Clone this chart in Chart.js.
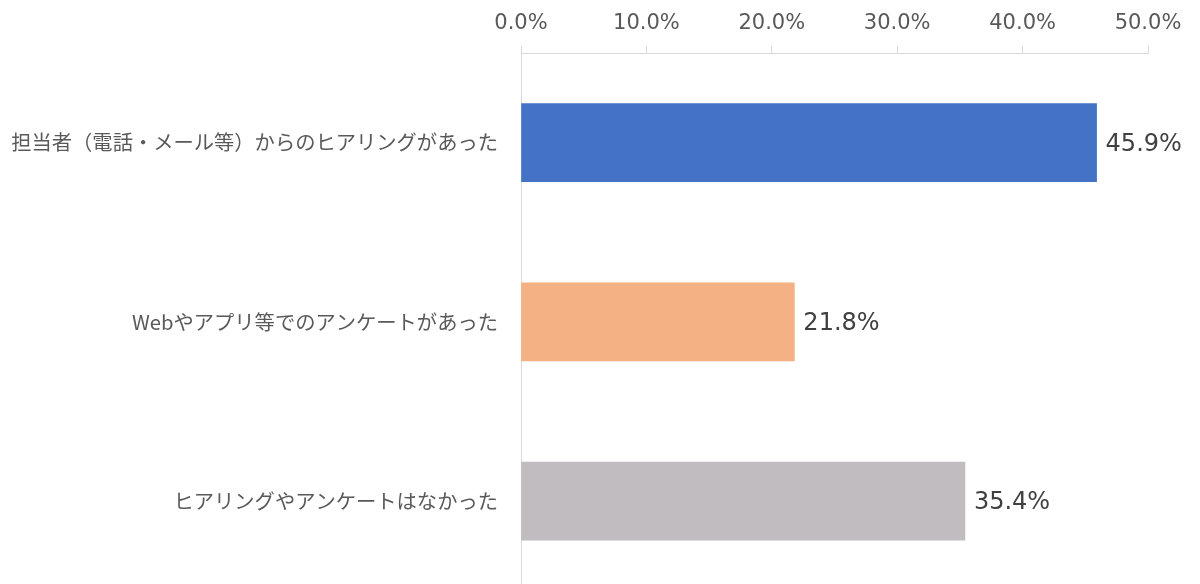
<!DOCTYPE html>
<html>
<head>
<meta charset="utf-8">
<script src="https://cdn.jsdelivr.net/npm/chart.js@4"></script>
<style>
  html, body { margin: 0; padding: 0; background: #fff; overflow: hidden; }
  canvas { display: block; }
</style>
</head>
<body>
<canvas id="myChart" width="1200" height="618"></canvas>
<script>
// Chart data
var categories = [
  '担当者（電話・メール等）からのヒアリングがあった',
  'Webやアプリ等でのアンケートがあった',
  'ヒアリングやアンケートはなかった'
];
var values = [45.9, 21.8, 35.4];
var barColors = ['#4472C4', '#F4B183', '#C0BCC0'];
var xTicks = [0, 10, 20, 30, 40, 50];

var numFont = "'DejaVu Sans', 'Noto Sans CJK JP', sans-serif";
var jpFont = "'Noto Sans CJK JP', 'DejaVu Sans', sans-serif";

// Draw the percentage next to each bar
var valueLabels = {
  id: 'valueLabels',
  afterDatasetsDraw: function (chart) {
    var ctx = chart.ctx;
    var meta = chart.getDatasetMeta(0);
    ctx.save();
    ctx.font = '24px ' + numFont;
    ctx.fillStyle = '#404040';
    ctx.textAlign = 'left';
    ctx.textBaseline = 'middle';
    meta.data.forEach(function (bar, i) {
      ctx.fillText(values[i].toFixed(1) + '%', bar.x + 9, bar.y + 2);
    });
    ctx.restore();
  }
};

var ctx = document.getElementById('myChart').getContext('2d');

var myChart = new Chart(ctx, {
  type: 'bar',
  data: {
    labels: categories,
    datasets: [
      {
        data: values,
        backgroundColor: barColors,
        borderWidth: 0,
        barThickness: 78
      }
    ]
  },
  options: {
    indexAxis: 'y',
    responsive: false,
    animation: false,
    layout: { padding: { left: 0, right: 52, top: 0, bottom: 0 } },
    plugins: {
      legend: { display: false },
      tooltip: { enabled: false }
    },
    scales: {
      x: {
        position: 'top',
        min: 0,
        max: 50,
        afterBuildTicks: function (scale) {
          scale.ticks = xTicks.map(function (v) { return { value: v }; });
        },
        afterFit: function (scale) { scale.height = 53; },
        grid: {
          drawOnChartArea: false,
          drawTicks: true,
          tickLength: 7,
          color: '#d9d9d9'
        },
        border: { display: true, color: '#d9d9d9' },
        ticks: {
          padding: 10,
          color: '#595959',
          font: { family: numFont, size: 21 },
          callback: function (v) { return Number(v).toFixed(1) + '%'; }
        }
      },
      y: {
        afterFit: function (scale) { scale.width = 521; },
        grid: { display: false },
        border: { display: true, color: '#d9d9d9' },
        ticks: {
          padding: 15,
          color: '#595959',
          font: { family: jpFont, size: 20.3 }
        }
      }
    }
  },
  plugins: [valueLabels]
});
</script>
</body>
</html>
